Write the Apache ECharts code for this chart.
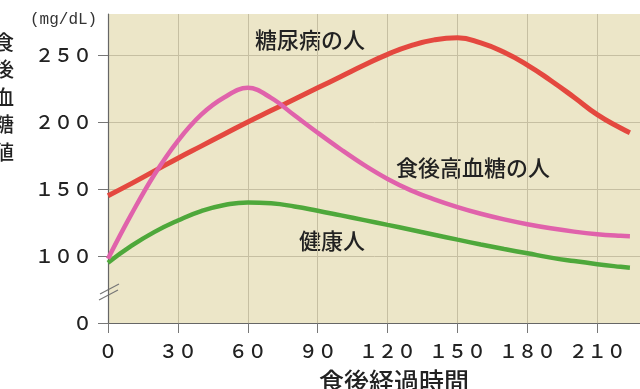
<!DOCTYPE html>
<html><head><meta charset="utf-8">
<script src="https://cdn.jsdelivr.net/npm/echarts@6/dist/echarts.min.js"></script>
<style>html,body{margin:0;padding:0;background:#fff}#c{width:640px;height:389px}</style>
</head><body><div id="c"></div>
<script>
// minutes after meal
const times = [0,10,20,30,40,50,60,70,80,90,100,110,120,130,140,150,160,170,180,190,200,210,220,224];
// blood glucose (mg/dL)
const diabetes = [145,154,163.5,173,182,191,200,208.5,217,225.5,234,242.5,250.5,257,261.3,262.8,259,252,242.5,231,218.5,205.5,195.5,192];
const postHyper = [98,131,161,186,205.5,218.5,225.5,218,205,192,179.5,167.8,157.5,149,142.3,136.5,131.5,127.3,123.7,120.7,118.2,116.3,115.1,114.8];
const healthy = [95,107.5,118,126.5,133.5,138,140,139.3,137,133.8,130.3,126.8,123.2,119.6,115.9,112.2,108.6,105.2,102,98.8,96.2,93.9,91.9,91.2];
const yTicks = [50,100,150,200,250];
const yTickLabels = {50:'０',100:'１００',150:'１５０',200:'２００',250:'２５０'};
const xTickLabels = {0:'０',30:'３０',60:'６０',90:'９０',120:'１２０',150:'１５０',180:'１８０',210:'２１０',240:'２４０'};

const toPairs = arr => times.map((t,i)=>[t,arr[i]]);
const FONT = '"Noto Sans CJK JP", sans-serif';
const chart = echarts.init(document.getElementById('c'), null, {renderer:'canvas'});
chart.setOption({
  animation:false,
  grid:{left:108, top:14, height:309, width:559.2, outerBoundsMode:'none', containLabel:false, show:true, backgroundColor:'#ece6c8', borderWidth:0},
  xAxis:{type:'value', min:0, max:240, interval:30,
    axisLine:{lineStyle:{color:'#666', width:1.2}},
    axisTick:{show:true, inside:false, length:10, lineStyle:{color:'#777'}},
    axisLabel:{margin:18, fontFamily:FONT, fontSize:19, fontWeight:500, color:'#222', formatter:v=>xTickLabels[v]||''},
    splitLine:{show:true, lineStyle:{color:'#c6bfa2', width:1}}
  },
  yAxis:{type:'value', min:50, max:280.6, interval:50,
    axisLine:{show:true, lineStyle:{color:'#666', width:1.2}},
    axisTick:{show:true, inside:false, length:10, customValues:yTicks, lineStyle:{color:'#777'}},
    axisLabel:{margin:16, fontFamily:FONT, fontSize:19, fontWeight:500, color:'#222', customValues:yTicks, formatter:v=>yTickLabels[v]||''},
    splitLine:{show:true, lineStyle:{color:'#c6bfa2', width:1}}
  },
  series:[
    {name:'糖尿病の人', type:'line', data:toPairs(diabetes), smooth:0.5, showSymbol:false, lineStyle:{color:'#e4483f', width:5}},
    {name:'健康人', type:'line', data:toPairs(healthy), smooth:0.5, showSymbol:false, lineStyle:{color:'#4ea83b', width:4.5}},
    {name:'食後高血糖の人', type:'line', data:toPairs(postHyper), smooth:0.4, showSymbol:false, lineStyle:{color:'#e062ab', width:4.5}}
  ],
  graphic:[
    {type:'text', left:30, top:12, style:{text:'(mg/dL)', font:'16px "Liberation Mono", monospace', fill:'#333'}},
    {type:'text', x:4, y:97, style:{text:'食\n後\n血\n糖\n値', font:'500 20px '+FONT, fill:'#222', align:'center', verticalAlign:'middle', lineHeight:27.5}},
    {type:'text', x:394, y:381, style:{text:'食後経過時間', font:'500 25px '+FONT, fill:'#222', align:'center', verticalAlign:'middle'}},
    {type:'text', x:310, y:40, style:{text:'糖尿病の人', font:'500 22px '+FONT, fill:'#222', align:'center', verticalAlign:'middle'}},
    {type:'text', x:473, y:168, style:{text:'食後高血糖の人', font:'500 22px '+FONT, fill:'#222', align:'center', verticalAlign:'middle'}},
    {type:'text', x:332, y:241, style:{text:'健康人', font:'500 22px '+FONT, fill:'#222', align:'center', verticalAlign:'middle'}},
    {type:'line', shape:{x1:99, y1:300, x2:118, y2:290}, style:{stroke:'#777', lineWidth:1.2}},
    {type:'line', shape:{x1:100, y1:294, x2:119, y2:284}, style:{stroke:'#777', lineWidth:1.2}}
  ]
});
</script></body></html>
